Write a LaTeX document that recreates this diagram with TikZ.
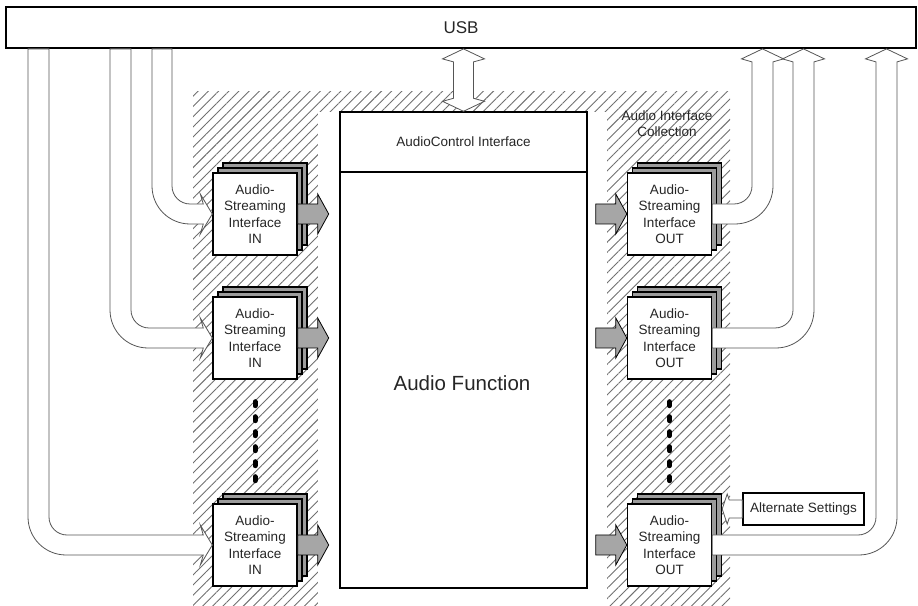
\documentclass[tikz,border=0pt]{standalone}
\usepackage{fontspec}
\setmainfont{Liberation Sans}
\usetikzlibrary{calc,patterns.meta,shadows}

\definecolor{linegray}{HTML}{555555}
\definecolor{hatchgray}{HTML}{707070}
\definecolor{layergray}{HTML}{9C9C9C}
\definecolor{txt}{HTML}{262626}
\newcommand{\lblfont}{\fontsize{13.5}{16.5}\selectfont}

\tikzset{
  bigbox/.style={draw, line width=1.4pt, fill=white, inner sep=0pt, text=txt, font=\lblfont},
  ifbox/.style={bigbox, minimum width=84pt, minimum height=82pt, align=center,
    general shadow={shadow xshift=10pt, shadow yshift=10pt, fill=layergray, draw=black, line width=1.1pt},
    general shadow={shadow xshift=5pt, shadow yshift=5pt, fill=layergray, draw=black, line width=1.1pt}},
  hollow/.style={draw=linegray, line width=0.8pt, fill=white},
  fat/.style={draw=black, line width=0.8pt, fill=black!35},
  hatch/.style={pattern={Lines[angle=45, distance=7.2pt, line width=0.9pt]}, pattern color=hatchgray},
  dots/.style={line width=5pt, line cap=round, dash pattern=on 4pt off 11pt, shorten <=22pt, shorten >=22pt}
}

% hollow arrow from USB down and into an IN box
\newcommand{\usbin}[3]{%
  \draw[hollow] let \p1=(#3.west), \p2=(usb.south) in
    (#1,\y2) -- (#1,\y1+28) arc[start angle=180, end angle=270, radius=38]
    -- (\x1-9,\y1-10) -- (\x1-12,\y1-20) -- (\x1,\y1) -- (\x1-12,\y1+20) -- (\x1-9,\y1+10)
    -- (#2+18,\y1+10) arc[start angle=270, end angle=180, radius=18]
    -- (#2,\y2) -- cycle;}
% hollow arrow from an OUT box up to USB
\newcommand{\usbout}[3]{%
  \draw[hollow] let \p1=(#3.east), \p2=(usb.south) in
    (\x1,\y1+10) -- (#1-18,\y1+10) arc[start angle=-90, end angle=0, radius=18]
    -- (#1,\y2-13) -- ({(#1+#2)/2-21},\y2-10) -- ({(#1+#2)/2},\y2) -- ({(#1+#2)/2+21},\y2-10) -- (#2,\y2-13)
    -- (#2,\y1+28) arc[start angle=0, end angle=-90, radius=38]
    -- (\x1,\y1-10) -- cycle;}
% grey data arrow, given by its tip
\newcommand{\fatarr}[1]{\draw[fat] #1 -- ++(-11,20) -- ++(0,-10) -- ++(-20,0) -- ++(0,-20) -- ++(20,0) -- ++(0,-10) -- cycle;}

\begin{document}
\begin{tikzpicture}[x=1pt,y=1pt]
\useasboundingbox (0,0) rectangle (918,605);

% interface collection background
\fill[hatch] (193,513) rectangle (730,0);
\fill[white] (318,493) rectangle (607,-3);

\node[draw, line width=1.8pt, minimum width=910pt, minimum height=41pt, inner sep=0pt,
  text=txt, font=\fontsize{17}{20}\selectfont] (usb) at (461,577.5) {USB};

\node[bigbox, minimum width=247pt, minimum height=476pt] (afunc) at (463.5,255) {};
\node[bigbox, minimum width=247pt, minimum height=60pt, anchor=north] (actl) at (afunc.north) {AudioControl Interface};
\node[text=txt, font=\fontsize{20.5}{24}\selectfont] (aflabel) at (462,222) {Audio Function};

\node[text=txt, font=\lblfont, align=center] (coll) at (667,481.5) {Audio Interface\\Collection};

% streaming interfaces
\node[ifbox] (in1) at (255,391) {Audio-\\Streaming\\Interface\\IN};
\node[ifbox] (in2) at (255,267) {Audio-\\Streaming\\Interface\\IN};
\node[ifbox] (in3) at (255,60) {Audio-\\Streaming\\Interface\\IN};
\node[ifbox] (out1) at (669.5,391) {Audio-\\Streaming\\Interface\\OUT};
\node[ifbox] (out2) at (669.5,267) {Audio-\\Streaming\\Interface\\OUT};
\node[ifbox] (out3) at (669.5,60) {Audio-\\Streaming\\Interface\\OUT};

\foreach \n in {in1,in2,in3} {\fatarr{($(\n.east)+(31,0)$)}}
\foreach \n in {out1,out2,out3} {\fatarr{(\n.west)}}

\draw[dots] (in2.south) -- (in3.north);
\draw[dots] (out2.south) -- (out3.north);

\usbin{152}{172}{in1}
\usbin{110}{131}{in2}
\usbin{28}{49}{in3}
\usbout{752}{773}{out1}
\usbout{793}{814}{out2}
\usbout{876}{897}{out3}

% control endpoint
\draw[hollow] let \p1=(actl.north), \p2=(usb.south) in
  (\x1-10,\y1+13) -- (\x1-21,\y1+10) -- (\x1,\y1) -- (\x1+21,\y1+10) -- (\x1+10,\y1+13)
  -- (\x1+10,\y2-13) -- (\x1+21,\y2-10) -- (\x1,\y2) -- (\x1-21,\y2-10) -- (\x1-10,\y2-13) -- cycle;

\node[bigbox, minimum width=121pt, minimum height=32pt] (alt) at (803.5,96) {Alternate Settings};
\draw[hollow] let \p1=(alt.west), \p2=($(out3.east)+(10,0)$) in
  (\x1,\y1+9) -- (\x2+7,\y1+9) -- (\x2+5,\y1+15) -- (\x2,\y1) -- (\x2+5,\y1-15) -- (\x2+7,\y1-9)
  -- (\x1,\y1-9) -- cycle;
\end{tikzpicture}
\end{document}
